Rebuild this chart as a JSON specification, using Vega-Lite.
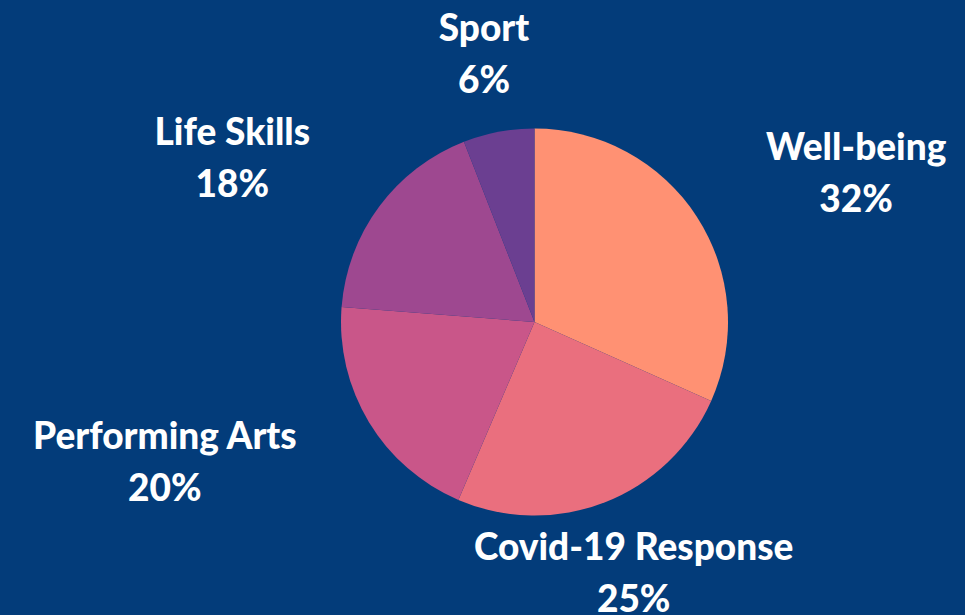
{
  "$schema": "https://vega.github.io/schema/vega-lite/v6.json",
  "width": 861,
  "height": 584,
  "autosize": {"type": "none"},
  "padding": {"left": 104, "top": 30, "right": 0, "bottom": 1},
  "background": "#033C7A",
  "config": {"view": {"stroke": null}, "text": {"fill": "white", "font": "Lato", "fontWeight": 900, "fontSize": 37, "lineBreak": "\n", "lineHeight": 52, "align": "center", "baseline": "middle"}},
  "data": {
    "values": [
      {"idx": 1, "category": "Well-being", "value": 32, "label": "Well-being\n32%"},
      {"idx": 2, "category": "Covid-19 Response", "value": 25, "label": "Covid-19 Response\n25%"},
      {"idx": 3, "category": "Performing Arts", "value": 20, "label": "Performing Arts\n20%"},
      {"idx": 4, "category": "Life Skills", "value": 18, "label": "Life Skills\n18%"},
      {"idx": 5, "category": "Sport", "value": 6, "label": "Sport\n6%"}
    ]
  },
  "encoding": {
    "theta": {"field": "value", "type": "quantitative", "stack": true},
    "order": {"field": "idx", "type": "quantitative"}
  },
  "layer": [
    {
      "mark": {"type": "arc", "outerRadius": 193.5},
      "encoding": {
        "color": {
          "field": "category",
          "type": "nominal",
          "legend": null,
          "scale": {
            "domain": ["Well-being", "Covid-19 Response", "Performing Arts", "Life Skills", "Sport"],
            "range": ["#FF9173", "#EA6F7E", "#C95689", "#9E4890", "#6B3F91"]
          }
        }
      }
    },
    {
      "mark": {"type": "text", "radius": 350, "dx": 28, "dy": 17},
      "encoding": {
        "detail": {"field": "category", "type": "nominal"},
        "text": {"condition": {"test": "datum.category === 'Well-being'", "field": "label", "type": "nominal"}, "value": ""}
      }
    },
    {
      "mark": {"type": "text", "radius": 272, "dx": 0, "dy": -26},
      "encoding": {
        "detail": {"field": "category", "type": "nominal"},
        "text": {"condition": {"test": "datum.category === 'Covid-19 Response'", "field": "label", "type": "nominal"}, "value": ""}
      }
    },
    {
      "mark": {"type": "text", "radius": 390, "dx": -36, "dy": -86},
      "encoding": {
        "detail": {"field": "category", "type": "nominal"},
        "text": {"condition": {"test": "datum.category === 'Performing Arts'", "field": "label", "type": "nominal"}, "value": ""}
      }
    },
    {
      "mark": {"type": "text", "radius": 340, "dx": -29, "dy": 14},
      "encoding": {
        "detail": {"field": "category", "type": "nominal"},
        "text": {"condition": {"test": "datum.category === 'Life Skills'", "field": "label", "type": "nominal"}, "value": ""}
      }
    },
    {
      "mark": {"type": "text", "radius": 272, "dx": 0, "dy": -25},
      "encoding": {
        "detail": {"field": "category", "type": "nominal"},
        "text": {"condition": {"test": "datum.category === 'Sport'", "field": "label", "type": "nominal"}, "value": ""}
      }
    }
  ]
}
